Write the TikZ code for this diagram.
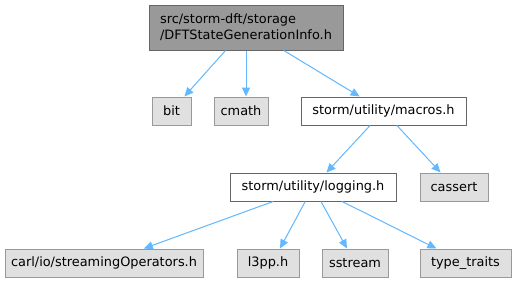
\documentclass[tikz,border=0pt]{standalone}
\usepackage{fontspec}
\setmainfont{DejaVu Sans}
\usepackage{tikz}
\usetikzlibrary{arrows.meta,positioning}
\definecolor{edgeblue}{HTML}{63B8FF}
\definecolor{darkborder}{HTML}{666666}
\definecolor{midgray}{HTML}{999999}
\definecolor{lightgray}{HTML}{E0E0E0}
\begin{document}
\begin{tikzpicture}[x=1pt,y=-1pt,>={Triangle[length=9pt,width=8pt]},
  every node/.style={font=\fontsize{12.9}{16}\selectfont,inner sep=0pt,minimum height=28pt,line width=1pt},
  mainfile/.style={draw=darkborder,fill=midgray,align=left},
  projfile/.style={draw=darkborder,fill=white},
  sysfile/.style={draw=midgray,fill=lightgray},
  incl/.style={->,draw=edgeblue,fill=edgeblue,line width=1pt}]
\useasboundingbox (0,0) rectangle (517,282);
% top level header
\node[mainfile,minimum width=194pt,minimum height=45pt] (info) at (246,27.5) {src/storm-dft/storage\\/DFTStateGenerationInfo.h};
% direct includes
\node[sysfile,minimum width=39pt] (bit) at (171.5,111) {bit};
\node[sysfile,minimum width=54pt] (cmath) at (241,111) {cmath};
\node[projfile,minimum width=165pt] (macros) at (383.5,111) {storm/utility/macros.h};
% second level
\node[projfile,minimum width=166pt] (logging) at (313,187) {storm/utility/logging.h};
\node[sysfile,minimum width=68pt] (cassert) at (454,187) {cassert};
% third level
\node[sysfile,minimum width=198pt] (carl) at (104,263) {carl/io/streamingOperators.h};
\node[sysfile,minimum width=62pt] (lthreepp) at (268,263) {l3pp.h};
\node[sysfile,minimum width=66pt] (sstream) at (355,263) {sstream};
\node[sysfile,minimum width=91pt] (traits) at (465.5,263) {type\_traits};
\draw[incl] (info)--(bit); \draw[incl] (info.south)--(cmath.north -| info.south); \draw[incl] (info)--(macros);
\draw[incl] (macros)--(logging); \draw[incl] (macros)--(cassert);
\draw[incl] (logging)--(carl); \draw[incl] (logging)--([xshift=12pt]lthreepp.north);
\draw[incl] (logging)--(sstream); \draw[incl] (logging)--(traits);
\end{tikzpicture}
\end{document}
